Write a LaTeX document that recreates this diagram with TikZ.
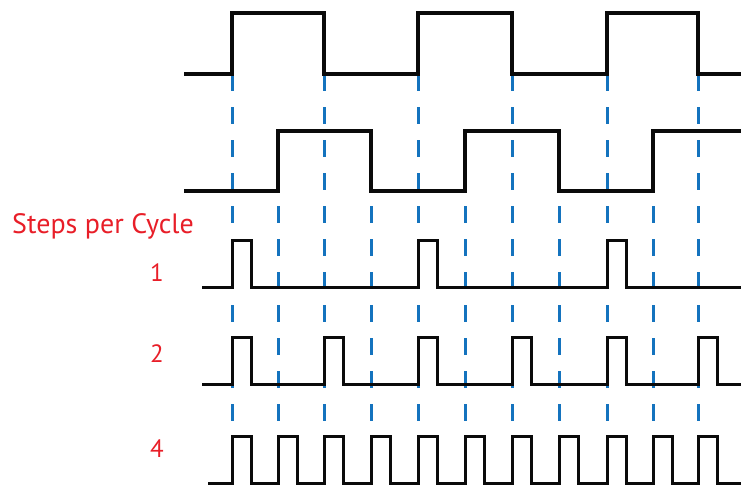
\documentclass[tikz,border=0pt]{standalone}
\usepackage{fontspec}
\usepackage{xcolor}
\usepackage{tikz}
\setmainfont{PT Sans}
\definecolor{wvink}{RGB}{10,10,10}
\definecolor{wvtick}{RGB}{20,115,190}
\definecolor{wvlbl}{RGB}{232,30,40}
\tikzset{
  wave/.style={draw=wvink, line width=3.6pt, line join=miter, line cap=rect},
  pulse/.style={draw=wvink, line width=3pt, line join=miter, line cap=rect},
  tick/.style={draw=wvtick, line width=3pt, dash pattern=on 17pt off 16pt},
  lbl/.style={text=wvlbl, font=\fontsize{28}{30}\selectfont, inner sep=0pt},
  num/.style={lbl, font=\fontsize{25}{27}\selectfont}
}

\begin{document}
\begin{tikzpicture}[x=1pt, y=-1pt]
  \useasboundingbox (0,0) rectangle (741,493);
  % edge guides
  \foreach \x in {232,324,418,512,607,698}
    \draw[tick] (\x,74) -- (\x,483);
  \foreach \x in {278,371,465,559,653}
    \draw[tick] (\x,140) -- (\x,483);
  % the two phases
  \draw[wave] (186,74) -- (232,74) -- (232,13) -- (324,13) -- (324,74)
    -- (418,74) -- (418,13) -- (512,13) -- (512,74) -- (607,74)
    -- (607,13) -- (698,13) -- (698,74) -- (741,74);
  \draw[wave] (186,191) -- (278,191) -- (278,131) -- (371,131) -- (371,191)
    -- (465,191) -- (465,131) -- (559,131) -- (559,191) -- (653,191)
    -- (653,131) -- (741,131);
  % step pulses
  \draw[pulse] (203,287) foreach \x in {232,418,607}
    { -- (\x,287) -- (\x,240) -- ({\x+19},240) -- ({\x+19},287) } -- (741,287);
  \draw[pulse] (203,384) foreach \x in {232,324,418,512,607,698}
    { -- (\x,384) -- (\x,337) -- ({\x+19},337) -- ({\x+19},384) } -- (741,384);
  \draw[pulse] (209,483) foreach \x in {232,278,324,371,418,465,512,559,607,653,698}
    { -- (\x,483) -- (\x,436) -- ({\x+19},436) -- ({\x+19},483) } -- (741,483);
  \node[lbl, anchor=base west] (spc) at (12,233) {Steps per Cycle};
  \node[num, anchor=base] (one) at (157,281) {1};
  \node[num, anchor=base] (two) at (157,362) {2};
  \node[num, anchor=base] (four) at (157,457) {4};
\end{tikzpicture}
\end{document}
